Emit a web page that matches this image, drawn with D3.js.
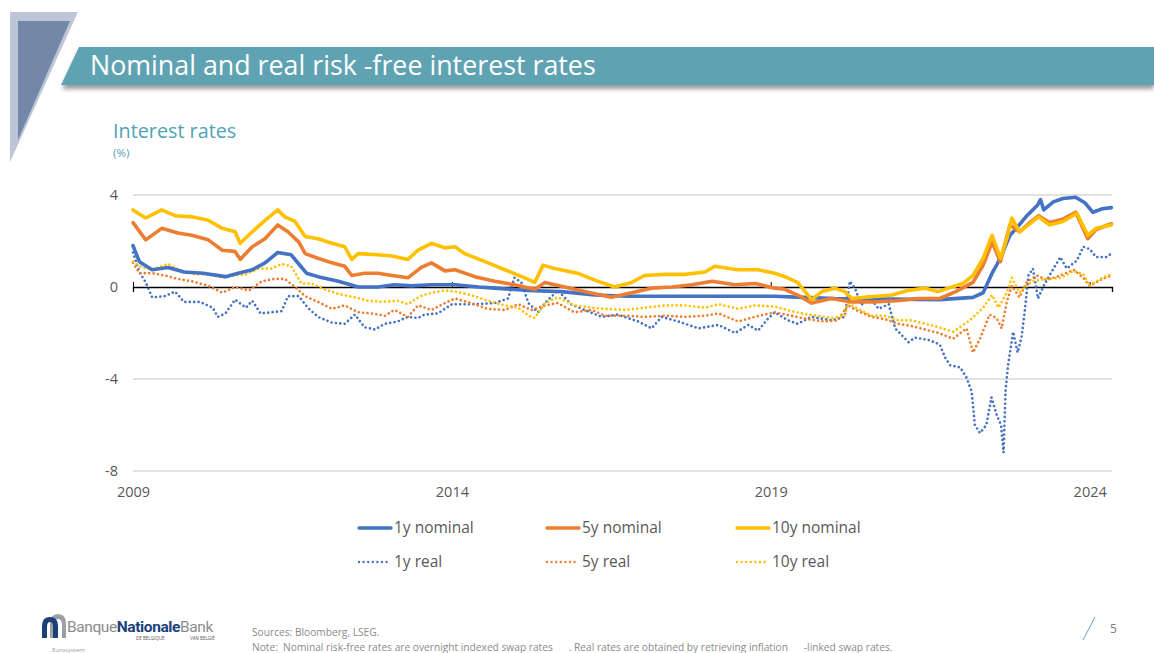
<!DOCTYPE html>
<html>
<head>
<meta charset="utf-8">
<script src="https://cdn.jsdelivr.net/npm/d3@7"></script>
<style>
  html, body { margin: 0; padding: 0; background: #fff; }
  svg { display: block; font-family: "Open Sans", "Noto Sans", sans-serif; }
</style>
</head>
<body>
<svg id="chart" width="1154" height="653"></svg>
<script>
// series: [decimal year, rate in %]
const nom1 = [[2009.0,1.8],[2009.1,1.1],[2009.3,0.75],[2009.55,0.85],[2009.8,0.65],[2010.1,0.6],[2010.45,0.45],[2010.65,0.6],[2010.87,0.75],[2011.07,1.05],[2011.27,1.5],[2011.48,1.4],[2011.6,1.0],[2011.72,0.6],[2011.9,0.45],[2012.22,0.25],[2012.53,0.0],[2012.84,0.0],[2013.1,0.1],[2013.36,0.05],[2013.68,0.1],[2014.05,0.1],[2014.42,0.0],[2014.67,-0.05],[2015.2,-0.15],[2015.72,-0.2],[2016.24,-0.35],[2016.77,-0.4],[2017.3,-0.4],[2019.06,-0.4],[2019.5,-0.45],[2020.0,-0.5],[2021.65,-0.55],[2022.17,-0.45],[2022.33,-0.25],[2022.47,0.6],[2022.55,1.0],[2022.63,1.45],[2022.75,2.25],[2022.85,2.55],[2023.0,3.05],[2023.18,3.55],[2023.23,3.8],[2023.28,3.35],[2023.43,3.7],[2023.58,3.85],[2023.78,3.9],[2023.93,3.65],[2024.05,3.25],[2024.2,3.4],[2024.34,3.45]];
const nom5 = [[2009.0,2.8],[2009.2,2.05],[2009.45,2.55],[2009.7,2.35],[2009.92,2.25],[2010.18,2.05],[2010.4,1.6],[2010.6,1.55],[2010.68,1.2],[2010.87,1.75],[2011.07,2.1],[2011.27,2.7],[2011.43,2.4],[2011.6,1.95],[2011.7,1.45],[2011.9,1.25],[2012.12,1.05],[2012.32,0.9],[2012.43,0.5],[2012.63,0.6],[2012.84,0.6],[2013.06,0.5],[2013.31,0.4],[2013.52,0.85],[2013.68,1.05],[2013.89,0.7],[2014.05,0.75],[2014.36,0.45],[2014.67,0.25],[2014.98,0.1],[2015.3,-0.1],[2015.46,0.2],[2015.77,0.0],[2016.08,-0.2],[2016.5,-0.45],[2016.82,-0.25],[2017.13,-0.05],[2017.45,0.0],[2017.76,0.1],[2018.08,0.25],[2018.44,0.1],[2018.76,0.15],[2019.06,-0.05],[2019.22,-0.1],[2019.42,-0.35],[2019.64,-0.7],[2019.95,-0.5],[2020.27,-0.65],[2020.62,-0.65],[2020.97,-0.6],[2021.32,-0.5],[2021.65,-0.5],[2021.9,-0.2],[2022.17,0.2],[2022.33,0.95],[2022.47,1.95],[2022.6,1.1],[2022.75,2.7],[2022.9,2.4],[2023.04,2.75],[2023.2,3.1],[2023.37,2.8],[2023.58,2.95],[2023.78,3.25],[2023.97,2.1],[2024.1,2.5],[2024.34,2.75]];
const nom10 = [[2009.0,3.35],[2009.2,3.0],[2009.45,3.35],[2009.66,3.1],[2009.92,3.05],[2010.18,2.9],[2010.4,2.55],[2010.6,2.4],[2010.68,1.9],[2010.87,2.4],[2011.07,2.9],[2011.27,3.35],[2011.38,3.05],[2011.54,2.85],[2011.7,2.2],[2011.9,2.1],[2012.12,1.9],[2012.32,1.75],[2012.43,1.2],[2012.53,1.45],[2012.84,1.4],[2013.06,1.35],[2013.31,1.2],[2013.47,1.6],[2013.68,1.9],[2013.89,1.7],[2014.05,1.75],[2014.2,1.45],[2014.52,1.1],[2014.83,0.75],[2015.14,0.4],[2015.3,0.2],[2015.43,0.95],[2015.61,0.8],[2015.97,0.6],[2016.24,0.3],[2016.55,0.0],[2016.82,0.2],[2017.02,0.5],[2017.34,0.55],[2017.65,0.55],[2017.97,0.65],[2018.12,0.9],[2018.48,0.75],[2018.8,0.75],[2019.06,0.6],[2019.22,0.45],[2019.42,0.2],[2019.64,-0.55],[2019.8,-0.2],[2020.0,-0.05],[2020.16,-0.2],[2020.27,-0.5],[2020.47,-0.45],[2020.9,-0.35],[2021.15,-0.15],[2021.42,-0.05],[2021.62,-0.2],[2021.84,0.0],[2022.01,0.15],[2022.17,0.5],[2022.33,1.25],[2022.47,2.25],[2022.6,1.25],[2022.7,2.1],[2022.78,3.0],[2022.9,2.4],[2023.04,2.7],[2023.2,3.05],[2023.37,2.7],[2023.58,2.85],[2023.8,3.2],[2023.97,2.25],[2024.1,2.55],[2024.34,2.7]];
const real1 = [[2009.0,1.5],[2009.1,0.65],[2009.2,0.2],[2009.3,-0.45],[2009.5,-0.4],[2009.66,-0.2],[2009.8,-0.65],[2010.05,-0.65],[2010.25,-0.9],[2010.33,-1.3],[2010.45,-1.15],[2010.6,-0.55],[2010.77,-0.9],[2010.87,-0.6],[2011.0,-1.15],[2011.17,-1.1],[2011.33,-1.05],[2011.43,-0.4],[2011.6,-0.4],[2011.74,-0.9],[2011.9,-1.3],[2012.12,-1.55],[2012.32,-1.6],[2012.48,-1.2],[2012.63,-1.75],[2012.79,-1.85],[2012.95,-1.6],[2013.15,-1.5],[2013.31,-1.3],[2013.47,-1.35],[2013.57,-1.2],[2013.78,-1.15],[2014.0,-0.75],[2014.36,-0.75],[2014.67,-0.7],[2014.88,-0.5],[2014.98,0.4],[2015.09,0.2],[2015.2,-0.7],[2015.35,-1.1],[2015.46,-0.7],[2015.66,-0.15],[2015.87,-0.75],[2016.08,-1.0],[2016.35,-1.3],[2016.6,-1.2],[2016.92,-1.5],[2017.13,-1.8],[2017.29,-1.3],[2017.55,-1.5],[2017.87,-1.8],[2018.18,-1.65],[2018.44,-2.0],[2018.65,-1.65],[2018.8,-1.9],[2018.95,-1.4],[2019.06,-1.1],[2019.27,-1.45],[2019.42,-1.6],[2019.64,-1.3],[2019.95,-1.45],[2020.16,-1.3],[2020.24,0.25],[2020.32,-0.05],[2020.42,-0.8],[2020.53,-0.35],[2020.69,-0.95],[2020.85,-0.75],[2020.95,-1.8],[2021.16,-2.4],[2021.26,-2.2],[2021.47,-2.3],[2021.65,-2.5],[2021.73,-3.05],[2021.81,-3.4],[2021.97,-3.5],[2022.07,-3.95],[2022.15,-4.55],[2022.2,-6.0],[2022.28,-6.35],[2022.38,-6.0],[2022.46,-4.8],[2022.54,-5.55],[2022.61,-6.0],[2022.65,-7.2],[2022.68,-4.55],[2022.72,-3.4],[2022.8,-1.95],[2022.87,-2.85],[2022.93,-2.2],[2022.98,-1.1],[2023.04,0.5],[2023.11,0.8],[2023.19,-0.5],[2023.27,0.0],[2023.38,0.55],[2023.54,1.3],[2023.64,0.8],[2023.8,1.15],[2023.9,1.75],[2024.0,1.65],[2024.1,1.3],[2024.26,1.3],[2024.34,1.45]];
const real5 = [[2009.0,1.05],[2009.1,0.6],[2009.3,0.6],[2009.5,0.5],[2009.7,0.35],[2009.92,0.25],[2010.18,0.05],[2010.4,-0.25],[2010.6,0.0],[2010.82,-0.15],[2011.02,0.25],[2011.22,0.35],[2011.38,0.35],[2011.54,0.0],[2011.7,-0.4],[2011.9,-0.65],[2012.12,-0.95],[2012.32,-0.8],[2012.53,-1.1],[2012.74,-1.15],[2012.95,-1.25],[2013.1,-1.0],[2013.31,-1.3],[2013.47,-0.8],[2013.68,-1.0],[2013.89,-0.7],[2014.05,-0.5],[2014.3,-0.7],[2014.56,-0.95],[2014.83,-1.0],[2015.04,-0.75],[2015.25,-1.0],[2015.46,-0.8],[2015.66,-0.7],[2015.92,-1.1],[2016.19,-1.0],[2016.4,-1.25],[2016.71,-1.25],[2017.02,-1.3],[2017.34,-1.25],[2017.65,-1.3],[2017.97,-1.25],[2018.18,-1.15],[2018.49,-1.5],[2018.75,-1.3],[2019.06,-1.1],[2019.32,-1.25],[2019.58,-1.4],[2019.84,-1.5],[2020.05,-1.45],[2020.21,-0.8],[2020.37,-1.05],[2020.58,-1.3],[2020.79,-1.4],[2021.0,-1.6],[2021.21,-1.7],[2021.42,-1.85],[2021.63,-2.0],[2021.86,-2.25],[2022.07,-1.8],[2022.17,-2.85],[2022.28,-2.25],[2022.43,-1.2],[2022.54,-1.35],[2022.62,-1.8],[2022.7,-0.65],[2022.78,0.05],[2022.9,-0.45],[2023.01,0.2],[2023.17,0.5],[2023.33,0.3],[2023.54,0.5],[2023.75,0.75],[2023.9,0.4],[2024.0,0.05],[2024.2,0.35],[2024.34,0.5]];
const real10 = [[2009.0,1.1],[2009.1,0.9],[2009.3,0.75],[2009.55,1.0],[2009.76,0.7],[2009.97,0.55],[2010.18,0.55],[2010.4,0.4],[2010.6,0.5],[2010.77,0.55],[2010.97,0.8],[2011.17,0.8],[2011.33,1.0],[2011.48,0.9],[2011.64,0.15],[2011.8,0.15],[2012.0,-0.1],[2012.22,-0.3],[2012.48,-0.45],[2012.69,-0.6],[2012.9,-0.65],[2013.15,-0.6],[2013.31,-0.75],[2013.5,-0.4],[2013.68,-0.25],[2013.89,-0.15],[2014.05,-0.2],[2014.3,-0.35],[2014.56,-0.6],[2014.83,-0.8],[2015.04,-0.9],[2015.2,-1.25],[2015.3,-1.35],[2015.46,-0.7],[2015.66,-0.45],[2015.92,-0.8],[2016.19,-0.9],[2016.4,-0.95],[2016.71,-1.0],[2017.02,-0.9],[2017.34,-0.8],[2017.65,-0.8],[2017.97,-0.9],[2018.18,-0.75],[2018.49,-0.95],[2018.75,-0.8],[2019.06,-0.85],[2019.32,-1.05],[2019.58,-1.2],[2019.74,-1.25],[2019.95,-1.35],[2020.16,-1.25],[2020.21,-0.7],[2020.37,-0.95],[2020.58,-1.25],[2020.79,-1.25],[2021.0,-1.45],[2021.21,-1.45],[2021.42,-1.6],[2021.63,-1.75],[2021.86,-1.95],[2022.12,-1.45],[2022.33,-0.9],[2022.47,-0.35],[2022.57,-0.9],[2022.7,-0.25],[2022.78,0.4],[2022.9,-0.25],[2022.98,0.0],[2023.11,0.25],[2023.33,0.35],[2023.54,0.4],[2023.75,0.7],[2023.9,0.55],[2024.0,0.05],[2024.2,0.4],[2024.34,0.55]];

const yTicks = [4, 0, -4, -8];
const xTicks = [2009, 2014, 2019, 2024];

const series = [
    { name: '1y real', data: real1, color: '#4472C4', dotted: true },
    { name: '5y real', data: real5, color: '#ED7D31', dotted: true },
    { name: '10y real', data: real10, color: '#FFC000', dotted: true },
    { name: '1y nominal', data: nom1, color: '#4472C4', dotted: false },
    { name: '5y nominal', data: nom5, color: '#ED7D31', dotted: false },
    { name: '10y nominal', data: nom10, color: '#FFC000', dotted: false }
];

const svg = d3.select('#chart');

// --- slide decoration ---
svg.append('polygon').attr('points', '10,12 78,12 10,162').attr('fill', '#bcc6d7');
svg.append('polygon').attr('points', '18,21 70,21 18,140').attr('fill', '#7387a8');

const defs = svg.append('defs');
defs.append('filter').attr('id', 'shadow')
    .append('feGaussianBlur').attr('stdDeviation', 2);
svg.append('polygon').attr('points', '80,50 1154,50 1154,89 62,89')
    .attr('fill', '#9a9a9a').attr('filter', 'url(#shadow)');
svg.append('polygon').attr('points', '79,47 1154,47 1154,85 61,85').attr('fill', '#5fa3b3');
svg.append('text').attr('x', 90).attr('y', 75)
    .attr('fill', '#fff').attr('font-size', 26.8)
    .text('Nominal and real risk -free interest rates');

svg.append('text').attr('x', 113).attr('y', 138)
    .attr('fill', '#4fa3b6').attr('font-size', 19.8).text('Interest rates');
svg.append('text').attr('x', 113).attr('y', 157)
    .attr('fill', '#4fa3b6').attr('font-size', 11.5).text('(%)');

// --- chart ---
const x = d3.scaleLinear().domain([2009, 2024.35]).range([133, 1112]);
const y = d3.scaleLinear().domain([-8, 4]).range([471, 195]);

const grid = svg.append('g');
grid.selectAll('line').data(yTicks.filter(d => d !== 0)).join('line')
    .attr('x1', x.range()[0]).attr('x2', x.range()[1])
    .attr('y1', d => y(d)).attr('y2', d => y(d))
    .attr('stroke', '#d9d9d9').attr('stroke-width', 1.5);

const yAxis = svg.append('g')
    .attr('transform', `translate(${x.range()[0]},0)`)
    .call(d3.axisLeft(y).tickValues(yTicks).tickSize(0).tickPadding(15).tickFormat(d => String(d)));
yAxis.select('.domain').remove();
yAxis.selectAll('text').attr('fill', '#595959').attr('font-size', 14.5)
    .attr('font-family', '"Open Sans", sans-serif');

const xAxis = svg.append('g')
    .attr('transform', `translate(0,${y(0)})`)
    .call(d3.axisBottom(x).tickValues(xTicks).tickSize(5).tickFormat(d => String(d)));
xAxis.select('.domain').attr('stroke', '#000').attr('stroke-width', 1.3);
xAxis.selectAll('.tick line').attr('stroke', '#000').attr('transform', 'translate(0,-5)');
xAxis.selectAll('text').attr('fill', '#595959').attr('font-size', 14.5)
    .attr('font-family', '"Open Sans", sans-serif')
    .attr('y', y(-8) - y(0) + 16);

const line = d3.line().x(d => x(d[0])).y(d => y(d[1]));

svg.append('g').selectAll('path').data(series).join('path')
    .attr('d', d => line(d.data))
    .attr('fill', 'none')
    .attr('stroke', d => d.color)
    .attr('stroke-width', d => d.dotted ? 2.7 : 3.6)
    .attr('stroke-linejoin', 'round')
    .attr('stroke-linecap', 'round')
    .attr('stroke-dasharray', d => d.dotted ? '0 4.4' : null);

// --- legend ---
const legendOrder = ['1y nominal', '5y nominal', '10y nominal', '1y real', '5y real', '10y real'];
const legend = svg.append('g').selectAll('g')
    .data(legendOrder.map(n => series.find(s => s.name === n)))
    .join('g')
    .attr('transform', (d, i) => `translate(${[359, 547, 737][i % 3]},${i < 3 ? 528 : 562})`);
legend.append('line')
    .attr('x1', 0).attr('x2', d => d.dotted ? 30 : 32)
    .attr('stroke', d => d.color)
    .attr('stroke-width', d => d.dotted ? 2.4 : 3.4)
    .attr('stroke-linecap', 'round')
    .attr('stroke-dasharray', d => d.dotted ? '0 4.6' : null);
legend.append('text')
    .attr('x', 35).attr('dy', '0.35em')
    .attr('fill', '#595959').attr('font-size', 15.5)
    .text(d => d.name);

// --- footer ---
const logo = svg.append('g');
logo.append('path').attr('d', 'M50,638 L50,624 Q50,614 58,614 Q66,614 66,624 L66,638 L62,638 L62,625 Q62,619 58,619 Q54,619 54,625 L54,638 Z')
    .attr('fill', '#9aa0a8');
logo.append('path').attr('d', 'M42,638 L42,626 Q42,617 50,617 Q58,617 58,626 L58,638 L53,638 L53,627 Q53,622 50,622 Q47,622 47,627 L47,638 Z')
    .attr('fill', '#1c3f7a');
const brand = logo.append('text').attr('x', 67).attr('y', 632).attr('font-size', 15.5)
    .attr('font-family', '"Liberation Sans Narrow", "Roboto", sans-serif').attr('letter-spacing', -0.4);
brand.append('tspan').attr('fill', '#8c8c8c').text('Banque');
brand.append('tspan').attr('fill', '#1c3f7a').attr('font-weight', 'bold').text('Nationale');
brand.append('tspan').attr('fill', '#8c8c8c').text('Bank');
logo.append('text').attr('x', 136).attr('y', 640).attr('font-size', 4.5).attr('fill', '#555').text('DE BELGIQUE');
logo.append('text').attr('x', 190).attr('y', 640).attr('font-size', 4.5).attr('fill', '#555').text('VAN BELGIË');
logo.append('text').attr('x', 52).attr('y', 652).attr('font-size', 6).attr('fill', '#9a9a9a').text('Eurosystem');

svg.append('text').attr('x', 252).attr('y', 636).attr('font-size', 10.2)
    .attr('fill', '#8a8a8a').text('Sources: Bloomberg, LSEG.');
svg.append('text').attr('x', 252).attr('y', 651).attr('font-size', 10.2)
    .attr('fill', '#8a8a8a').attr('xml:space', 'preserve')
    .text('Note:  Nominal risk-free rates are overnight indexed swap rates      . Real rates are obtained by retrieving inflation      -linked swap rates.');

svg.append('line').attr('x1', 1083).attr('y1', 640).attr('x2', 1095).attr('y2', 617)
    .attr('stroke', '#6d9fd0').attr('stroke-width', 1);
svg.append('text').attr('x', 1110).attr('y', 633).attr('font-size', 12)
    .attr('fill', '#7f7f7f').text('5');
</script>
</body>
</html>
